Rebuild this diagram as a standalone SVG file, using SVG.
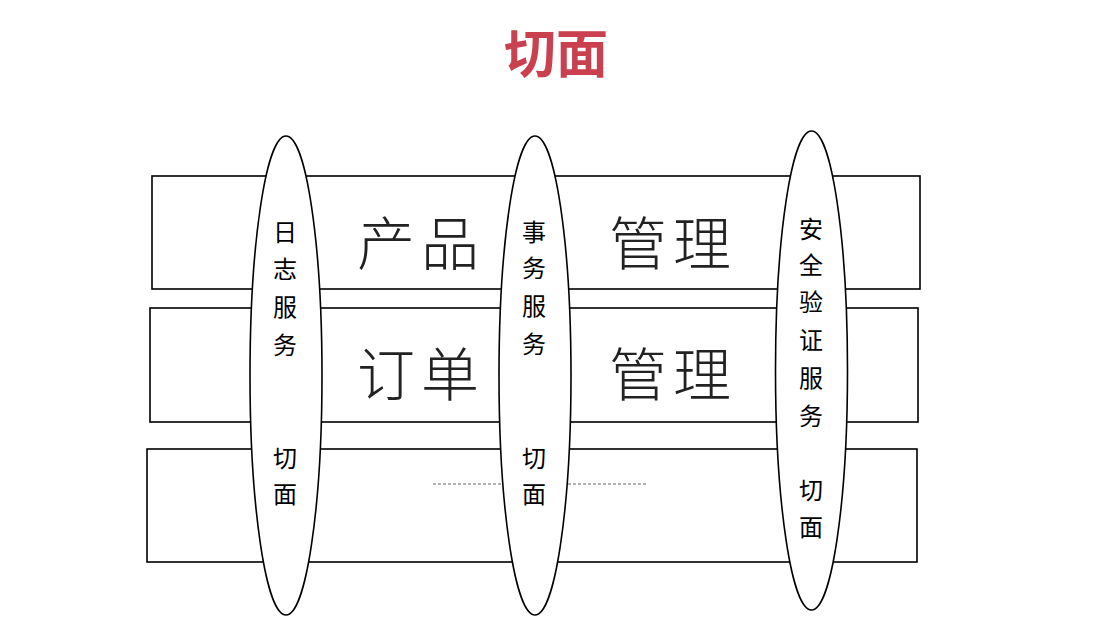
<svg xmlns="http://www.w3.org/2000/svg" width="1100" height="625" viewBox="0 0 1100 625">
<style>
.layer{fill:#fff;stroke:#000;stroke-width:1.6}
.aspect{fill:#fff;stroke:#000;stroke-width:1.6}
.big{font-family:"Noto Sans CJK SC","Noto Sans",sans-serif;font-size:58px;font-weight:300;fill:#222;text-anchor:middle;dominant-baseline:central;letter-spacing:6px}
.v{font-family:"Noto Sans CJK SC","Noto Sans",sans-serif;font-size:24px;fill:#000;text-anchor:middle;dominant-baseline:central}
.title{font-family:"Noto Sans CJK SC","Noto Sans",sans-serif;font-size:52px;font-weight:bold;fill:#c9404f;text-anchor:middle;dominant-baseline:central}
</style>
<rect width="1100" height="625" fill="#fff"/>
<text class="title" x="556" y="50">切面</text>
<g id="layers">
<g id="product-layer">
<rect class="layer" x="152" y="176" width="768" height="113"/>
</g>
<g id="order-layer">
<rect class="layer" x="150" y="308" width="768" height="114"/>
</g>
<g id="other-layer">
<rect class="layer" x="147" y="449" width="770" height="113"/>
<line x1="433" y1="484" x2="647" y2="484" stroke="#666" stroke-width="1" stroke-dasharray="3 2"/>
</g>
</g>
<g id="connectors"></g>
<g id="log-aspect">
<ellipse class="aspect" cx="286" cy="375.5" rx="36" ry="239.5"/>
<text class="v" x="285" y="230">日</text>
<text class="v" x="285" y="267">志</text>
<text class="v" x="285" y="305">服</text>
<text class="v" x="285" y="343">务</text>
<text class="v" x="285" y="456">切</text>
<text class="v" x="285" y="492">面</text>
</g>
<g id="tx-aspect">
<ellipse class="aspect" cx="535" cy="375.5" rx="36" ry="239.5"/>
<text class="v" x="534" y="230">事</text>
<text class="v" x="534" y="266">务</text>
<text class="v" x="534" y="304">服</text>
<text class="v" x="534" y="342">务</text>
<text class="v" x="534" y="456">切</text>
<text class="v" x="534" y="492">面</text>
</g>
<g id="security-aspect">
<ellipse class="aspect" cx="811.5" cy="370.5" rx="36" ry="239.5"/>
<text class="v" x="811" y="227">安</text>
<text class="v" x="811" y="263">全</text>
<text class="v" x="811" y="300">验</text>
<text class="v" x="811" y="338">证</text>
<text class="v" x="811" y="376">服</text>
<text class="v" x="811" y="414">务</text>
<text class="v" x="811" y="488">切</text>
<text class="v" x="811" y="525">面</text>
</g>
<g id="labels">
<text class="big" x="421" y="240">产品</text>
<text class="big" x="673" y="240">管理</text>
<text class="big" x="421" y="371">订单</text>
<text class="big" x="673" y="371">管理</text>
</g>
</svg>
